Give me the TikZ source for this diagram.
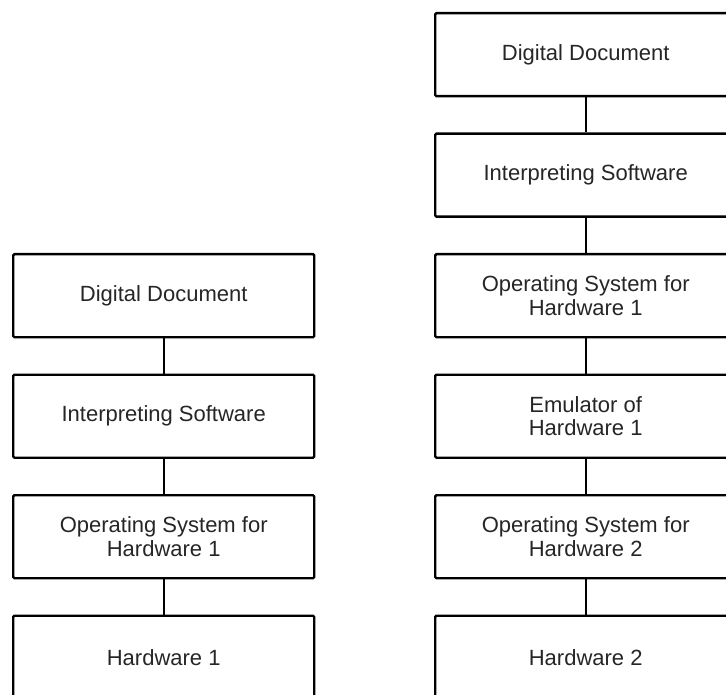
\documentclass[tikz,border=0pt]{standalone}
\usepackage{fontspec}
\setmainfont{Liberation Sans}
\begin{document}
\begin{tikzpicture}[x=1pt,y=-1pt,
  layer/.style={draw=black,line width=2.4pt,rounded corners=1.2pt,fill=white,
    minimum width=301pt,minimum height=83pt,inner sep=0pt,anchor=north west,
    align=center,font=\fontsize{22}{23.5}\selectfont,text=black!85},
  link/.style={draw=black,line width=2.4pt}]
\useasboundingbox (0,0) rectangle (726,695);
\clip (0,0) rectangle (726,695);
% left stack
\node[layer] (l1) at (12,253) {Digital Document};
\node[layer] (l2) at (12,373.5) {Interpreting Software};
\node[layer] (l3) at (12,494) {Operating System for\\Hardware 1};
\node[layer] (l4) at (12,614.5) {Hardware 1};
% right stack
\node[layer] (r1) at (434,12) {Digital Document};
\node[layer] (r2) at (434,132.5) {Interpreting Software};
\node[layer] (r3) at (434,253) {Operating System for\\Hardware 1};
\node[layer] (r4) at (434,373.5) {Emulator of\\Hardware 1};
\node[layer] (r5) at (434,494) {Operating System for\\Hardware 2};
\node[layer] (r6) at (434,614.5) {Hardware 2};
\foreach \a/\b in {l1/l2,l2/l3,l3/l4,r1/r2,r2/r3,r3/r4,r4/r5,r5/r6}
  \draw[link] (\a.south) -- (\b.north);
\end{tikzpicture}
\end{document}
